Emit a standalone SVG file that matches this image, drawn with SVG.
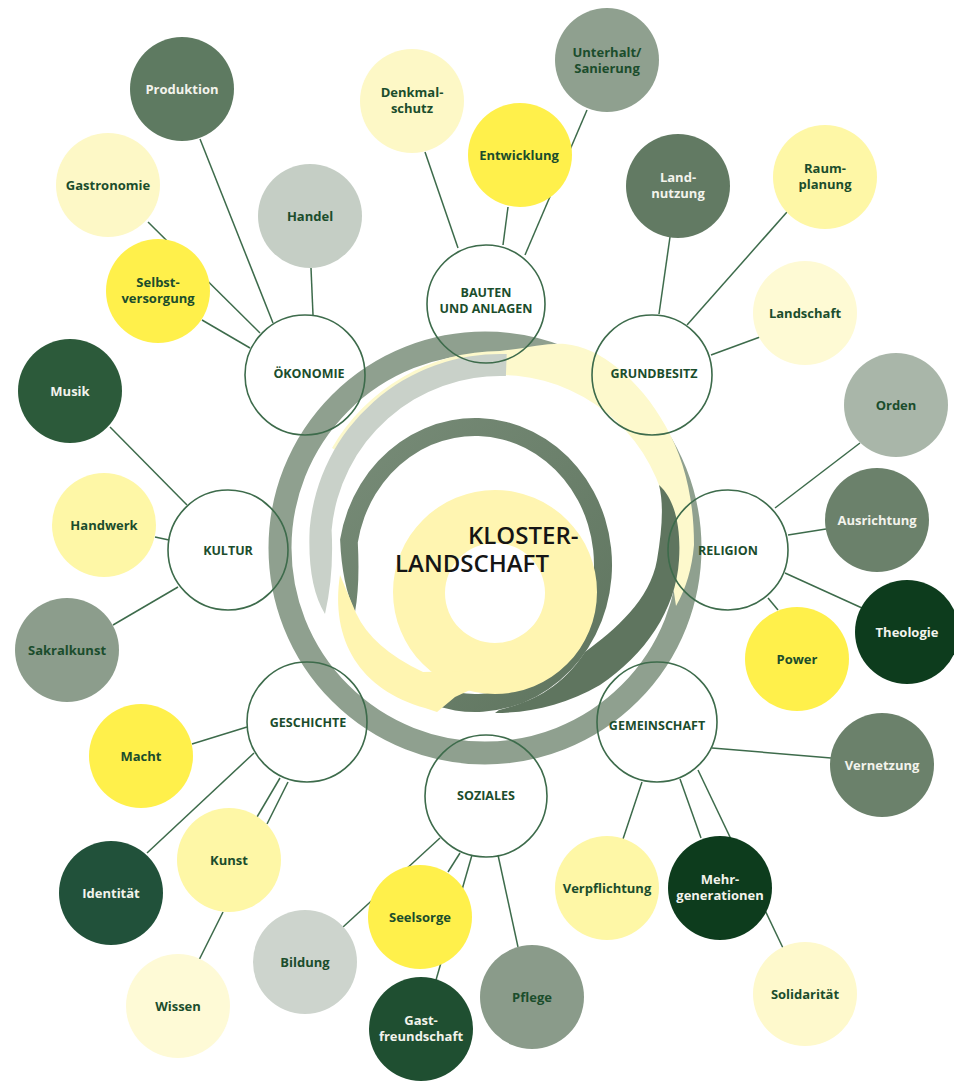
<svg xmlns="http://www.w3.org/2000/svg" width="954" height="1083" viewBox="0 0 954 1083">
<defs>
<linearGradient id="dg" x1="0" y1="0" x2="1" y2="1">
<stop offset="0" stop-color="#788c78"/>
<stop offset="1" stop-color="#5e745e"/>
</linearGradient>
</defs>
<style>
.ln{stroke:#3d6b4b;stroke-width:1.5;fill:none}
.co{fill:none;stroke:#3d6b4b;stroke-width:1.6}
.t{font-family:"Open Sans","DejaVu Sans",sans-serif;font-weight:700;font-size:13px;text-anchor:middle;fill:#1b4d2c}
.c{font-size:12.5px}
.w{fill:#f3f3ec}
.k{font-family:"Open Sans","DejaVu Sans",sans-serif;font-weight:600;font-size:24px;fill:#151515}
</style>
<rect width="954" height="1083" fill="#fff"/>
<g id="center">
<circle cx="485" cy="548" r="205" fill="none" stroke="#8fa08f" stroke-width="23"/>
<path d="M332,448 A194,194 0 0 1 500,351 C530,348 545,343 565,344 C600,347 640,380 665,425 C685,460 694,500 694,545 Q691,580 676,606 Q671,575 670,545 A170,170 0 0 0 352.8,460 Z" fill="#fdf9cc"/>
<path d="M506.7,354.1 A191,191 0 0 0 309.7,528.3 Q307,585 325,614 Q334,575 331.6,530.3 A169,169 0 0 1 505.9,376.1 Z" fill="#c9d1c9"/>
<path d="M340.1,539.5 A137,147 0 1 1 428.1,703.1 L434.3,686.2 A119,129 0 1 0 357.8,542.6 Q360,585 355,612 Q342,585 340.1,539.5 Z" fill="url(#dg)"/>
<path d="M659,485 C676,500 681,530 679,560 C676,610 645,655 600,685 C565,705 530,713 495,713 L499,710 C530,702 560,690 585,652 C615,630 650,600 657,560 C662,530 664,505 659,485 Z" fill="#5f755f"/>
<path d="M393,592 a102,102 0 1,0 204,0 a102,102 0 1,0 -204,0 Z M445,593 a50,50 0 1,0 100,0 a50,50 0 1,0 -100,0 Z" fill="#fff5b1" fill-rule="evenodd"/>
<path d="M340,575 C330,640 360,690 425,708 L437,712 L455,697 L470,690 L500,690 L500,670 L423,672 Q372,648 356,613 Z" fill="#fff5b1"/>
<text class="k" x="468" y="544">KLOSTER-</text>
<text class="k" x="395" y="572">LANDSCHAFT</text>
</g>
<g id="connectors">
<line class="ln" x1="200" y1="139" x2="273" y2="323"/>
<line class="ln" x1="311" y1="268" x2="313" y2="315"/>
<line class="ln" x1="148" y1="222" x2="260" y2="333"/>
<line class="ln" x1="202" y1="320" x2="250" y2="348"/>
<line class="ln" x1="425" y1="152" x2="458" y2="248"/>
<line class="ln" x1="508" y1="207" x2="503" y2="245"/>
<line class="ln" x1="587" y1="110" x2="525" y2="255"/>
<line class="ln" x1="670" y1="237" x2="659" y2="314"/>
<line class="ln" x1="787" y1="212" x2="687" y2="325"/>
<line class="ln" x1="760" y1="337" x2="711" y2="355"/>
<line class="ln" x1="110" y1="427" x2="187" y2="505"/>
<line class="ln" x1="155" y1="537" x2="169" y2="540"/>
<line class="ln" x1="113" y1="625" x2="178" y2="587"/>
<line class="ln" x1="860" y1="443" x2="775" y2="508"/>
<line class="ln" x1="826" y1="529" x2="788" y2="535"/>
<line class="ln" x1="862" y1="608" x2="785" y2="573"/>
<line class="ln" x1="778" y1="610" x2="768" y2="598"/>
<line class="ln" x1="192" y1="744" x2="247" y2="727"/>
<line class="ln" x1="147" y1="853" x2="254" y2="753"/>
<line class="ln" x1="257" y1="817" x2="280" y2="778"/>
<line class="ln" x1="267" y1="824" x2="288" y2="782"/>
<line class="ln" x1="223" y1="912" x2="199" y2="960"/>
<line class="ln" x1="343" y1="927" x2="440" y2="838"/>
<line class="ln" x1="448" y1="872" x2="460" y2="853"/>
<line class="ln" x1="436" y1="980" x2="472" y2="855"/>
<line class="ln" x1="518" y1="947" x2="498" y2="855"/>
<line class="ln" x1="712" y1="748" x2="831" y2="758"/>
<line class="ln" x1="642" y1="782" x2="623" y2="839"/>
<line class="ln" x1="680" y1="779" x2="701" y2="838"/>
<line class="ln" x1="698" y1="770" x2="783" y2="948"/>
</g>
<g id="oekonomie"><circle class="co" cx="305" cy="375" r="60"/><text class="t c" x="309" y="378">ÖKONOMIE</text></g>
<g id="bauten"><circle class="co" cx="486" cy="304" r="59"/><text class="t c" x="486" y="297">BAUTEN</text><text class="t c" x="486" y="313">UND ANLAGEN</text></g>
<g id="grundbesitz"><circle class="co" cx="652" cy="375" r="60"/><text class="t c" x="654" y="378">GRUNDBESITZ</text></g>
<g id="kultur"><circle class="co" cx="228" cy="550" r="60"/><text class="t c" x="228" y="555">KULTUR</text></g>
<g id="religion"><circle class="co" cx="728" cy="550" r="60"/><text class="t c" x="728" y="555">RELIGION</text></g>
<g id="geschichte"><circle class="co" cx="307" cy="722" r="60"/><text class="t c" x="308" y="727">GESCHICHTE</text></g>
<g id="gemeinschaft"><circle class="co" cx="657" cy="722" r="60"/><text class="t c" x="657" y="730">GEMEINSCHAFT</text></g>
<g id="soziales"><circle class="co" cx="486" cy="796" r="61"/><text class="t c" x="486" y="800">SOZIALES</text></g>
<g id="produktion"><circle cx="182" cy="89" r="52" fill="#5e7a61"/><text class="t w" x="182" y="94">Produktion</text></g>
<g id="gastronomie"><circle cx="108" cy="185" r="52" fill="#fdf8c6"/><text class="t" x="108" y="190">Gastronomie</text></g>
<g id="handel"><circle cx="310" cy="216" r="52" fill="#c5cec5"/><text class="t" x="310" y="221">Handel</text></g>
<g id="selbstversorgung"><circle cx="158" cy="291" r="52" fill="#fff04b"/><text class="t" x="158" y="287">Selbst-</text><text class="t" x="158" y="303">versorgung</text></g>
<g id="musik"><circle cx="70" cy="391" r="52" fill="#2c5a3a"/><text class="t w" x="70" y="396">Musik</text></g>
<g id="handwerk"><circle cx="104" cy="525" r="52" fill="#fef7a6"/><text class="t" x="104" y="530">Handwerk</text></g>
<g id="sakralkunst"><circle cx="67" cy="650" r="52" fill="#8c9d8c"/><text class="t" x="67" y="655">Sakralkunst</text></g>
<g id="denkmalschutz"><circle cx="412" cy="101" r="52" fill="#fdf8c6"/><text class="t" x="412" y="97">Denkmal-</text><text class="t" x="412" y="113">schutz</text></g>
<g id="entwicklung"><circle cx="520" cy="155" r="52" fill="#fff04b"/><text class="t" x="519" y="160">Entwicklung</text></g>
<g id="unterhalt"><circle cx="607" cy="60" r="52" fill="#8fa08f"/><text class="t" x="607" y="57">Unterhalt/</text><text class="t" x="607" y="73">Sanierung</text></g>
<g id="landnutzung"><circle cx="678" cy="186" r="52" fill="#627a63"/><text class="t w" x="678" y="182">Land-</text><text class="t w" x="678" y="198">nutzung</text></g>
<g id="raumplanung"><circle cx="825" cy="177" r="52" fill="#fef7a6"/><text class="t" x="825" y="173">Raum-</text><text class="t" x="825" y="189">planung</text></g>
<g id="landschaft"><circle cx="805" cy="313" r="52" fill="#fefad4"/><text class="t" x="805" y="318">Landschaft</text></g>
<g id="orden"><circle cx="896" cy="405" r="52" fill="#a9b6a9"/><text class="t" x="896" y="410">Orden</text></g>
<g id="ausrichtung"><circle cx="877" cy="520" r="52" fill="#6b816b"/><text class="t w" x="877" y="525">Ausrichtung</text></g>
<g id="theologie"><circle cx="907" cy="632" r="52" fill="#0d3c1d"/><text class="t w" x="907" y="637">Theologie</text></g>
<g id="power"><circle cx="797" cy="659" r="52" fill="#fff04b"/><text class="t" x="797" y="664">Power</text></g>
<g id="vernetzung"><circle cx="882" cy="765" r="52" fill="#6b816b"/><text class="t w" x="882" y="770">Vernetzung</text></g>
<g id="verpflichtung"><circle cx="607" cy="888" r="52" fill="#fef7a6"/><text class="t" x="607" y="893">Verpflichtung</text></g>
<g id="mehrgenerationen"><circle cx="720" cy="888" r="52" fill="#0d3c1d"/><text class="t w" x="720" y="884">Mehr-</text><text class="t w" x="720" y="900">generationen</text></g>
<g id="solidaritaet"><circle cx="805" cy="994" r="52" fill="#fef9cc"/><text class="t" x="805" y="999">Solidarität</text></g>
<g id="pflege"><circle cx="532" cy="997" r="52" fill="#8a9b8a"/><text class="t" x="532" y="1002">Pflege</text></g>
<g id="seelsorge"><circle cx="420" cy="917" r="52" fill="#fff04b"/><text class="t" x="420" y="922">Seelsorge</text></g>
<g id="gastfreundschaft"><circle cx="421" cy="1029" r="52" fill="#1f4f31"/><text class="t w" x="421" y="1025">Gast-</text><text class="t w" x="421" y="1041">freundschaft</text></g>
<g id="bildung"><circle cx="305" cy="962" r="52" fill="#cdd4cd"/><text class="t" x="305" y="967">Bildung</text></g>
<g id="wissen"><circle cx="178" cy="1006" r="52" fill="#fefad6"/><text class="t" x="178" y="1011">Wissen</text></g>
<g id="kunst"><circle cx="229" cy="860" r="52" fill="#fef7a6"/><text class="t" x="229" y="865">Kunst</text></g>
<g id="identitaet"><circle cx="111" cy="893" r="52" fill="#21513a"/><text class="t w" x="111" y="898">Identität</text></g>
<g id="macht"><circle cx="141" cy="756" r="52" fill="#fff04b"/><text class="t" x="141" y="761">Macht</text></g>
</svg>
